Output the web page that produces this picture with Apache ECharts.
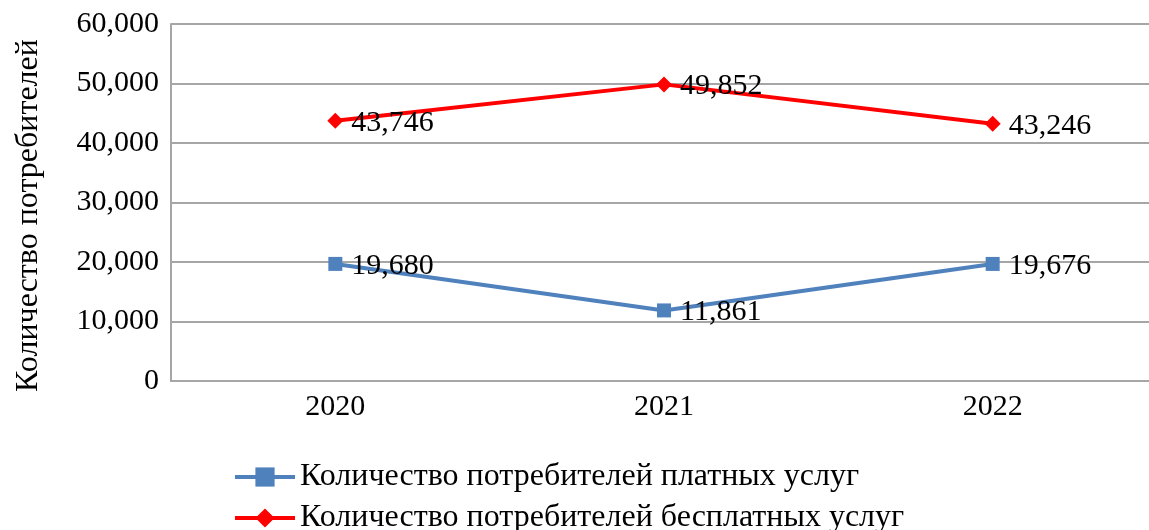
<!DOCTYPE html>
<html>
<head>
<meta charset="utf-8">
<script src="https://cdn.jsdelivr.net/npm/echarts@6/dist/echarts.min.js"></script>
<style>
  html, body { margin: 0; padding: 0; background: #fff; }
  #chart { width: 1149px; height: 530px; }
</style>
</head>
<body>
<div id="chart"></div>
<script>
const years = ['2020', '2021', '2022']
const paidUsers = [19680, 11861, 19676]
const freeUsers = [43746, 49852, 43246]
const seriesNames = ['Количество потребителей платных услуг', 'Количество потребителей бесплатных услуг']
const axisTitle = 'Количество потребителей'

const font = '"Liberation Serif", "Times New Roman", serif'
const fmt = v => Number(v).toLocaleString('en-US')

// одна легенда на строку, чтобы строки шли друг под другом
const legendRow = (name, top) => ({
    left: 228,
    top: top,
    itemWidth: 60,
    itemHeight: 24,
    lineStyle: { width: 4 },
    textStyle: { fontFamily: font, fontSize: 32, color: '#000' },
    data: [name]
})

const chart = echarts.init(document.getElementById('chart'))
chart.setOption({
    animation: false,
    textStyle: { fontFamily: font },
    grid: { left: 171, top: 24, bottom: 149, width: 986, outerBoundsMode: 'none' },
    legend: [legendRow(seriesNames[0], 456), legendRow(seriesNames[1], 497)],
    xAxis: {
        type: 'category',
        data: years,
        boundaryGap: true,
        axisTick: { show: false },
        axisLine: { lineStyle: { color: '#a6a6a6', width: 2 } },
        axisLabel: { fontFamily: font, fontSize: 30, color: '#000', margin: 11 }
    },
    yAxis: {
        type: 'value',
        min: 0,
        max: 60000,
        interval: 10000,
        name: axisTitle,
        nameLocation: 'middle',
        nameGap: 126,
        nameTextStyle: { fontFamily: font, fontSize: 32, color: '#000', padding: [0, 26, 0, 0] },
        axisLine: { show: true, lineStyle: { color: '#a6a6a6', width: 2 } },
        axisTick: { show: false },
        splitLine: { lineStyle: { color: '#a6a6a6', width: 2 } },
        axisLabel: { fontFamily: font, fontSize: 30, color: '#000', margin: 12, formatter: fmt }
    },
    series: [{
        name: seriesNames[0],
        type: 'line',
        data: paidUsers,
        symbol: 'rect',
        symbolSize: 14,
        lineStyle: { color: '#4f81bd', width: 4 },
        itemStyle: { color: '#4f81bd' },
        label: {
            show: true, position: 'right', distance: 9, offset: [0, 2],
            fontFamily: font, fontSize: 30, color: '#000',
            formatter: p => fmt(p.value)
        }
    }, {
        name: seriesNames[1],
        type: 'line',
        data: freeUsers,
        symbol: 'diamond',
        symbolSize: 16,
        lineStyle: { color: '#ff0000', width: 4 },
        itemStyle: { color: '#ff0000' },
        label: {
            show: true, position: 'right', distance: 8, offset: [0, 2],
            fontFamily: font, fontSize: 30, color: '#000',
            formatter: p => fmt(p.value)
        }
    }]
})
</script>
</body>
</html>
